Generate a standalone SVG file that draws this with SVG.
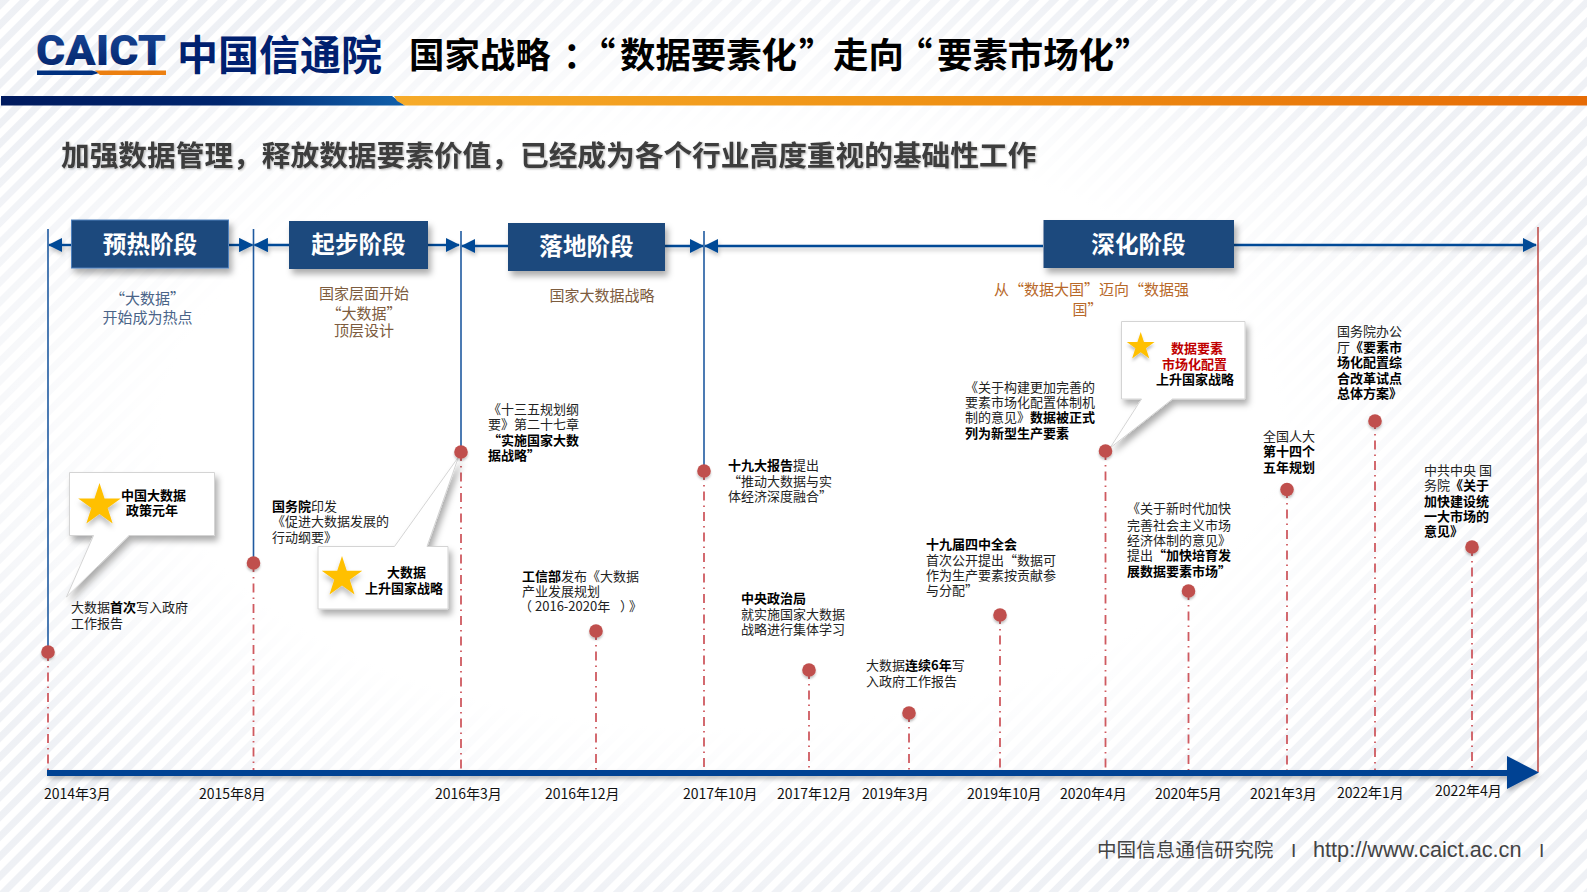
<svg xmlns="http://www.w3.org/2000/svg" width="1587" height="892" viewBox="0 0 1587 892">
<defs>
<style>
text{font-family:"Noto Sans CJK SC","Noto Sans",sans-serif;fill:#222}
.t{font-size:13px}
g[id^=node] .t{transform:translateY(-1px)}
.b{font-weight:700;fill:#000}
.d{font-size:14px;fill:#111}
.ph{font-size:23.6px;font-weight:700;fill:#fff;text-anchor:middle}
.box{fill:#1f497d}
.sub{font-size:15px;fill:#7d5c3e;text-anchor:middle}
.dot{fill:#c0504d;filter:url(#ds)}
.dash{stroke:#cf5a60;stroke-width:1.8;stroke-dasharray:9 5 1.5 5;fill:none}
.v{stroke:#1f5aa0;stroke-width:1.6;fill:none}
.ar{stroke:#004a96;stroke-width:2.4;fill:none}
.call{fill:#fff;stroke:#d4d4d4;stroke-width:1}
.star{fill:#ffc000;filter:url(#ds)}
</style>
<pattern id="stripes" width="14" height="14" patternUnits="userSpaceOnUse" patternTransform="rotate(-45)"><rect width="14" height="14" fill="#fff"/><rect width="14" height="7" fill="#e9ecf2"/></pattern>
<radialGradient id="fade" gradientUnits="userSpaceOnUse" cx="720" cy="430" r="1" gradientTransform="translate(720 430) scale(900 480) translate(-720 -430)">
<stop offset="0.62" stop-color="#fff" stop-opacity="1"/><stop offset="1" stop-color="#fff" stop-opacity=".25"/></radialGradient>
<linearGradient id="navy" x1="0" x2="1" y1="0" y2="0"><stop offset="0" stop-color="#001a5e"/><stop offset=".55" stop-color="#00256e"/><stop offset="1" stop-color="#1160ab"/></linearGradient>
<linearGradient id="orange" x1="0" x2="1" y1="0" y2="0"><stop offset="0" stop-color="#f6ab2a"/><stop offset=".45" stop-color="#ef9215"/><stop offset="1" stop-color="#e66b05"/></linearGradient>
<linearGradient id="logo" x1="0" x2="0" y1="0" y2="1"><stop offset="0" stop-color="#1a4a9a"/><stop offset="1" stop-color="#001f66"/></linearGradient>
<filter id="sh" x="-15%" y="-15%" width="135%" height="140%"><feDropShadow dx="3" dy="5" stdDeviation="3" flood-color="#000" flood-opacity=".32"/></filter>
<filter id="ds" x="-30%" y="-30%" width="160%" height="170%"><feDropShadow dx="0" dy="2" stdDeviation="1.200" flood-color="#000" flood-opacity=".25"/></filter>
<filter id="ls" filterUnits="userSpaceOnUse" x="0" y="200" width="1587" height="620"><feDropShadow dx="1" dy="3" stdDeviation="2" flood-color="#000" flood-opacity=".25"/></filter>
<filter id="ts" x="-5%" y="-20%" width="110%" height="150%"><feDropShadow dx="1" dy="1" stdDeviation=".8" flood-color="#000" flood-opacity=".3"/></filter>
<polygon id="st" points="0,-10 2.245,-3.09 9.51,-3.09 3.633,1.18 5.878,8.09 0,3.82 -5.878,8.09 -3.633,1.18 -9.51,-3.09 -2.245,-3.09"/>
<marker id="head" markerWidth="6" markerHeight="6" refX="5.6" refY="3" orient="auto-start-reverse" viewBox="0 0 6 6"><path d="M0 0L6 3L0 6z" fill="#004a96"/></marker>
</defs>

<g id="background">
<rect width="1587" height="892" fill="url(#stripes)"/>
<rect width="1587" height="892" fill="url(#fade)"/>
</g>

<g id="header">
<text x="36" y="65" font-size="42" font-weight="900" textLength="130" lengthAdjust="spacingAndGlyphs" style="font-family:Roboto,'Liberation Sans',sans-serif;fill:url(#logo)">CAICT</text>
<path d="M37 70.500H92L100 72.800L92 75H37z" fill="#00307f"/>
<path d="M95 70.500H166V75H100z" fill="#ec7f10"/>
<text x="177" y="70" font-size="41" font-weight="700" style="fill:#00206f">中国信通院</text>
<text y="68" font-size="35.400" font-weight="700" style="fill:#000"><tspan x="409">国家战略</tspan><tspan x="563">：</tspan><tspan x="580">“</tspan><tspan x="620">数据要素化</tspan><tspan x="799">”</tspan><tspan x="833">走向</tspan><tspan x="897">“</tspan><tspan x="937">要素市场化</tspan><tspan x="1115">”</tspan></text>
<path d="M1 96H392L405 105.500H1z" fill="url(#navy)"/>
<path d="M394 96H1587V105.500H405L397 101z" fill="url(#orange)"/>
<text x="61" y="166" font-size="28.700" font-weight="700" style="fill:#3c3c3c" filter="url(#ts)">加强数据管理，释放数据要素价值，已经成为各个行业高度重视的基础性工作</text>
</g>

<g id="connectors">
<g class="verticals">
<path class="v" d="M48 229V652"/>
<path class="v" d="M253.500 229V563"/>
<path class="v" d="M461 231V452"/>
<path class="v" d="M704 231V471"/>
<path d="M1538 227V772" stroke="#c0504d" stroke-width="1.600" fill="none"/>
</g>
<g class="dashes">
<path class="dash" d="M48 652V772"/>
<path class="dash" d="M253.500 563V772"/>
<path class="dash" d="M461 452V772"/>
<path class="dash" d="M596 631V772"/>
<path class="dash" d="M704 471V772"/>
<path class="dash" d="M809 670V772"/>
<path class="dash" d="M909 713V772"/>
<path class="dash" d="M1000 615V772"/>
<path class="dash" d="M1105.500 451V772"/>
<path class="dash" d="M1188.500 591V772"/>
<path class="dash" d="M1287 489V772"/>
<path class="dash" d="M1375 420V772"/>
<path class="dash" d="M1472 547V772"/>
</g>
<g class="phase-arrows" filter="url(#ls)">
<path class="ar" d="M71 245H49" marker-end="url(#head)"/>
<path class="ar" d="M228 245H252.500" marker-end="url(#head)"/>
<path class="ar" d="M289 245H254.500" marker-end="url(#head)"/>
<path class="ar" d="M428 245H459" marker-end="url(#head)"/>
<path class="ar" d="M508 246H462" marker-end="url(#head)"/>
<path class="ar" d="M665 246H703" marker-end="url(#head)"/>
<path class="ar" d="M1043 246H705" marker-end="url(#head)"/>
<path class="ar" d="M1234 245H1536" marker-end="url(#head)"/>
</g>
<g id="axis" filter="url(#ls)">
<path d="M47 770H1507V756L1539 772.500L1507 789V776H47z" fill="#004293"/>
</g>
</g>

<g id="phase-preheat"><rect class="box" x="71.500" y="220" width="157" height="48" stroke="#4f81bd" stroke-width="1" filter="url(#sh)"/><text class="ph" x="150" y="253">预热阶段</text><text class="sub" x="147.500" y="304" style="fill:#4a6488">“大数据”</text><text class="sub" x="147.500" y="323" style="fill:#4a6488">开始成为热点</text></g>
<g id="phase-start"><rect class="box" x="289" y="221" width="139" height="48" filter="url(#sh)"/><text class="ph" x="358.500" y="253">起步阶段</text><text class="sub" x="364" y="299">国家层面开始</text><text class="sub" x="364" y="319">“大数据”</text><text class="sub" x="364" y="336">顶层设计</text></g>
<g id="phase-landing"><rect class="box" x="508" y="223" width="157" height="48" filter="url(#sh)"/><text class="ph" x="586.500" y="255">落地阶段</text><text class="sub" x="602" y="301">国家大数据战略</text></g>
<g id="phase-deepen"><rect class="box" x="1043.500" y="220" width="190.500" height="48" filter="url(#sh)"/><text class="ph" x="1138.500" y="253">深化阶段</text><text class="sub" x="1091.500" y="295" style="fill:#b8692a">从“数据大国”迈向“数据强</text><text class="sub" x="1087.500" y="315" style="fill:#b8692a">国”</text></g>

<g id="callout-2014">
<path class="call" filter="url(#sh)" d="M69.500 472.500H214.500V535.500H129L66.500 597L93.500 535.500H69.500z"/>
<use href="#st" class="star" transform="translate(99.500 505.400) scale(2.240)"/>
<text class="t b" x="121" y="500">中国大数据</text><text class="t b" x="126" y="515">政策元年</text>
</g>
<g id="callout-2016">
<path class="call" filter="url(#sh)" d="M318 546.500H394.500L458.500 457L427 546.500H448V609H318z"/>
<use href="#st" class="star" transform="translate(342 577.300) scale(2.130)"/>
<text class="t b" x="387" y="577">大数据</text><text class="t b" x="365" y="593">上升国家战略</text>
</g>
<g id="callout-2020">
<path class="call" filter="url(#sh)" d="M1121.500 321.500H1245V399H1172.500L1110 448L1141.500 399H1121.500z"/>
<use href="#st" class="star" transform="translate(1140.700 346.600) scale(1.460)"/>
<text class="t b" x="1171" y="353" style="fill:#c00000">数据要素</text><text class="t b" x="1162" y="369" style="fill:#c00000">市场化配置</text><text class="t b" x="1156" y="384">上升国家战略</text>
</g>

<g id="node-2014-03"><circle class="dot" cx="48" cy="652" r="6.800"/><text class="d" x="44" y="799">2014年3月</text>
<text class="t" x="71" y="613">大数据<tspan class="b">首次</tspan>写入政府</text><text class="t" x="71" y="629">工作报告</text></g>
<g id="node-2015-08"><circle class="dot" cx="253.500" cy="563" r="6.800"/><text class="d" x="199" y="799">2015年8月</text>
<text class="t" x="272" y="511.500"><tspan class="b">国务院</tspan>印发</text><text class="t" x="272" y="527">《促进大数据发展的</text><text class="t" x="272" y="542.500">行动纲要》</text></g>
<g id="node-2016-03"><circle class="dot" cx="461" cy="452" r="6.800"/><text class="d" x="435" y="799">2016年3月</text>
<text class="t" x="488" y="415">《十三五规划纲</text><text class="t" x="488" y="430">要》第二十七章</text><text class="t b" x="488" y="446">“实施国家大数</text><text class="t b" x="488" y="461">据战略”</text></g>
<g id="node-2016-12"><circle class="dot" cx="596" cy="631" r="6.800"/><text class="d" x="545" y="799">2016年12月</text>
<text class="t" x="522" y="581.500"><tspan class="b">工信部</tspan>发布《大数据</text><text class="t" x="522" y="597">产业发展规划</text><text class="t" y="612"><tspan x="519">（</tspan><tspan x="535">2016-2020年</tspan><tspan x="620">）</tspan><tspan x="629">》</tspan></text></g>
<g id="node-2017-10"><circle class="dot" cx="704" cy="471" r="6.800"/><text class="d" x="683" y="799">2017年10月</text>
<text class="t" x="728" y="470.500"><tspan class="b">十九大报告</tspan>提出</text><text class="t" x="728" y="486.500">“推动大数据与实</text><text class="t" x="728" y="501.500">体经济深度融合”</text></g>
<g id="node-2017-12"><circle class="dot" cx="809" cy="670" r="6.800"/><text class="d" x="777" y="799">2017年12月</text>
<text class="t b" x="741" y="604">中央政治局</text><text class="t" x="741" y="620">就实施国家大数据</text><text class="t" x="741" y="635">战略进行集体学习</text></g>
<g id="node-2019-03"><circle class="dot" cx="909" cy="713" r="6.800"/><text class="d" x="862" y="799">2019年3月</text>
<text class="t" x="866" y="670.500">大数据<tspan class="b">连续6年</tspan>写</text><text class="t" x="866" y="686.500">入政府工作报告</text></g>
<g id="node-2019-10"><circle class="dot" cx="1000" cy="615" r="6.800"/><text class="d" x="967" y="799">2019年10月</text>
<text class="t b" x="926" y="550">十九届四中全会</text><text class="t" x="926" y="565.500">首次公开提出“数据可</text><text class="t" x="926" y="581">作为生产要素按贡献参</text><text class="t" x="926" y="596">与分配”</text></g>
<g id="node-2020-04"><circle class="dot" cx="1105.500" cy="451" r="6.800"/><text class="d" x="1060" y="799">2020年4月</text>
<text class="t" x="965" y="392.500">《关于构建更加完善的</text><text class="t" x="965" y="408">要素市场化配置体制机</text><text class="t" x="965" y="423">制的意见》<tspan class="b">数据被正式</tspan></text><text class="t b" x="965" y="438.500">列为新型生产要素</text></g>
<g id="node-2020-05"><circle class="dot" cx="1188.500" cy="591" r="6.800"/><text class="d" x="1155" y="799">2020年5月</text>
<text class="t" x="1127" y="514">《关于新时代加快</text><text class="t" x="1127" y="530.500">完善社会主义市场</text><text class="t" x="1127" y="545.500">经济体制的意见》</text><text class="t" x="1127" y="561">提出<tspan class="b">“加快培育发</tspan></text><text class="t b" x="1127" y="576.500">展数据要素市场”</text></g>
<g id="node-2021-03"><circle class="dot" cx="1287" cy="489.500" r="6.800"/><text class="d" x="1250" y="799">2021年3月</text>
<text class="t" x="1263" y="441.500">全国人大</text><text class="t b" x="1263" y="457">第十四个</text><text class="t b" x="1263" y="472.500">五年规划</text></g>
<g id="node-2022-01"><circle class="dot" cx="1375" cy="421" r="6.800"/><text class="d" x="1337" y="798">2022年1月</text>
<text class="t" x="1337" y="336.500">国务院办公</text><text class="t" x="1337" y="352.500">厅<tspan class="b">《要素市</tspan></text><text class="t b" x="1337" y="367.500">场化配置综</text><text class="t b" x="1337" y="383.500">合改革试点</text><text class="t b" x="1337" y="398.500">总体方案》</text></g>
<g id="node-2022-04"><circle class="dot" cx="1472" cy="547" r="6.800"/><text class="d" x="1435" y="796">2022年4月</text>
<text class="t" x="1424" y="475.500">中共中央 国</text><text class="t" x="1424" y="490.500">务院<tspan class="b">《关于</tspan></text><text class="t b" x="1424" y="506.500">加快建设统</text><text class="t b" x="1424" y="522">一大市场的</text><text class="t b" x="1424" y="537">意见》</text></g>

<g id="footer">
<text x="1097" y="857" font-size="19.600" style="fill:#444">中国信息通信研究院</text>
<text x="1291" y="857" font-size="19" style="fill:#444;font-family:'Liberation Sans',sans-serif">I</text>
<text x="1313" y="857" font-size="21.700" style="fill:#444;font-family:'Liberation Sans',sans-serif">http://www.caict.ac.cn</text>
<text x="1539" y="857" font-size="19" style="fill:#444;font-family:'Liberation Sans',sans-serif">I</text>
</g>
</svg>
